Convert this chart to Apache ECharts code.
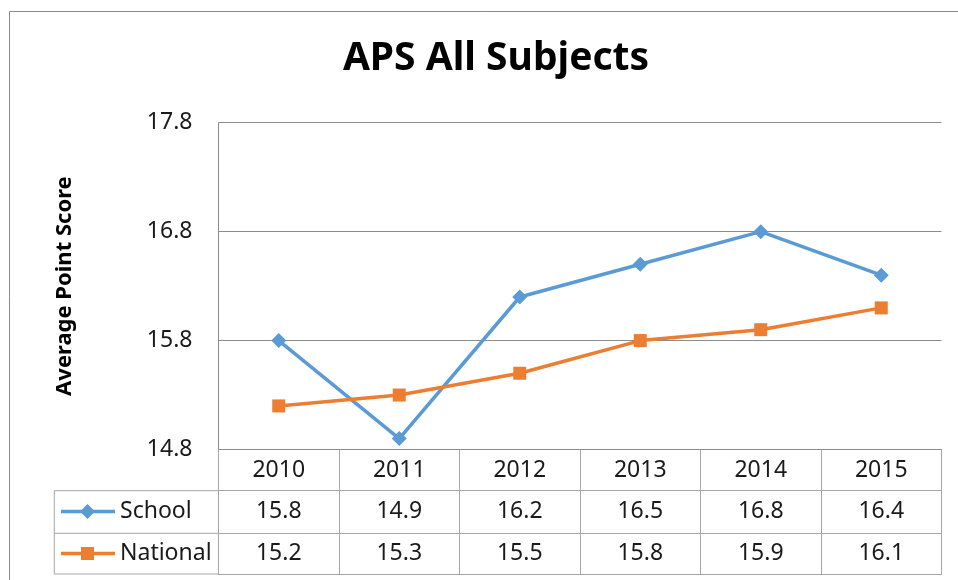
<!DOCTYPE html>
<html>
<head>
<meta charset="utf-8">
<script src="https://cdn.jsdelivr.net/npm/echarts@6/dist/echarts.min.js"></script>
<style>
  html, body { margin: 0; padding: 0; background: #fff; }
  #chart { width: 958px; height: 580px; }
</style>
</head>
<body>
<div id="chart"></div>
<script>
const years = ['2010', '2011', '2012', '2013', '2014', '2015']
const school = [15.8, 14.9, 16.2, 16.5, 16.8, 16.4]
const national = [15.2, 15.3, 15.5, 15.8, 15.9, 16.1]
const yTicks = [14.8, 15.8, 16.8, 17.8]

const BLUE = '#5B9BD5'
const ORANGE = '#ED7D31'
const GRID = '#8c8c8c'
const TABLE = '#a6a6a6'
const FONT = 'Noto Sans'

// plot box
const L = 218.5, R = 941.5, T = 122.7, B = 449.5
// table row bottoms
const row1 = 490.7, row2 = 533.3, row3 = 574
const legLeft = 54.3

const tableLabel = (margin) => ({
  fontFamily: FONT, fontSize: 23, color: '#1a1a1a',
  verticalAlign: 'middle', margin: margin, interval: 0
})

const chart = echarts.init(document.getElementById('chart'))
chart.setOption({
  animation: false,
  title: {
    text: 'APS All Subjects',
    left: 491, top: 34, textAlign: 'center',
    textStyle: { fontFamily: FONT, fontSize: 39, fontWeight: 'bold', color: '#000' }
  },
  grid: { left: L, right: 958 - R, top: T, bottom: 580 - B },
  xAxis: [
    {
      type: 'category', data: years, position: 'bottom',
      axisLine: { lineStyle: { color: GRID } },
      axisTick: { show: true, interval: 0, length: row3 - B, lineStyle: { color: TABLE } },
      axisLabel: tableLabel(21)
    },
    {
      type: 'category', data: school.map(v => v.toFixed(1)), position: 'bottom', offset: row1 - B,
      axisLine: { lineStyle: { color: TABLE } }, axisTick: { show: false },
      axisLabel: tableLabel(21)
    },
    {
      type: 'category', data: national.map(v => v.toFixed(1)), position: 'bottom', offset: row2 - B,
      axisLine: { lineStyle: { color: TABLE } }, axisTick: { show: false },
      axisLabel: tableLabel(20.5)
    },
    {
      type: 'category', data: years, position: 'bottom', offset: row3 - B,
      axisLine: { lineStyle: { color: TABLE } }, axisTick: { show: false },
      axisLabel: { show: false }
    }
  ],
  yAxis: {
    type: 'value', min: 14.8, max: 17.8,
    name: 'Average Point Score', nameLocation: 'middle', nameGap: 143,
    nameTextStyle: { fontFamily: FONT, fontSize: 22, fontWeight: 'bold', color: '#000' },
    axisLine: { show: true, lineStyle: { color: GRID } },
    axisTick: { show: false, customValues: yTicks },
    splitLine: { show: true, lineStyle: { color: GRID } },
    axisLabel: {
      customValues: yTicks, margin: 26,
      fontFamily: FONT, fontSize: 23, color: '#1a1a1a',
      formatter: v => v.toFixed(1)
    }
  },
  series: [
    {
      name: 'School', type: 'line', data: school,
      symbol: 'diamond', symbolSize: 15,
      lineStyle: { color: BLUE, width: 3.5 },
      itemStyle: { color: BLUE }
    },
    {
      name: 'National', type: 'line', data: national,
      symbol: 'rect', symbolSize: 13,
      lineStyle: { color: ORANGE, width: 3.5 },
      itemStyle: { color: ORANGE }
    }
  ],
  graphic: [
    // outer chart border
    { type: 'rect', shape: { x: 9.5, y: 11.5, width: 1000, height: 1000 },
      style: { fill: 'none', stroke: '#8a8a8a', lineWidth: 1 }, silent: true },
    // legend cells of the data table
    { type: 'rect', shape: { x: legLeft, y: row1, width: L - legLeft, height: row3 - row1 },
      style: { fill: 'none', stroke: TABLE, lineWidth: 1 }, silent: true },
    { type: 'line', shape: { x1: legLeft, y1: row2, x2: L, y2: row2 },
      style: { stroke: TABLE, lineWidth: 1 }, silent: true },
    // legend keys
    { type: 'line', shape: { x1: 61, y1: 511.5, x2: 115, y2: 511.5 },
      style: { stroke: BLUE, lineWidth: 3.5 } },
    { type: 'polygon', shape: { points: [[87.5, 504], [95, 511.5], [87.5, 519], [80, 511.5]] },
      style: { fill: BLUE } },
    { type: 'text', x: 120, y: 511.5,
      style: { text: 'School', font: '23px "Noto Sans"', fill: '#1a1a1a', verticalAlign: 'middle' } },
    { type: 'line', shape: { x1: 61, y1: 553.5, x2: 115, y2: 553.5 },
      style: { stroke: ORANGE, lineWidth: 3.5 } },
    { type: 'rect', shape: { x: 81, y: 547, width: 13, height: 13 },
      style: { fill: ORANGE } },
    { type: 'text', x: 120, y: 553.5,
      style: { text: 'National', font: '23px "Noto Sans"', fill: '#1a1a1a', verticalAlign: 'middle' } }
  ]
})
</script>
</body>
</html>
